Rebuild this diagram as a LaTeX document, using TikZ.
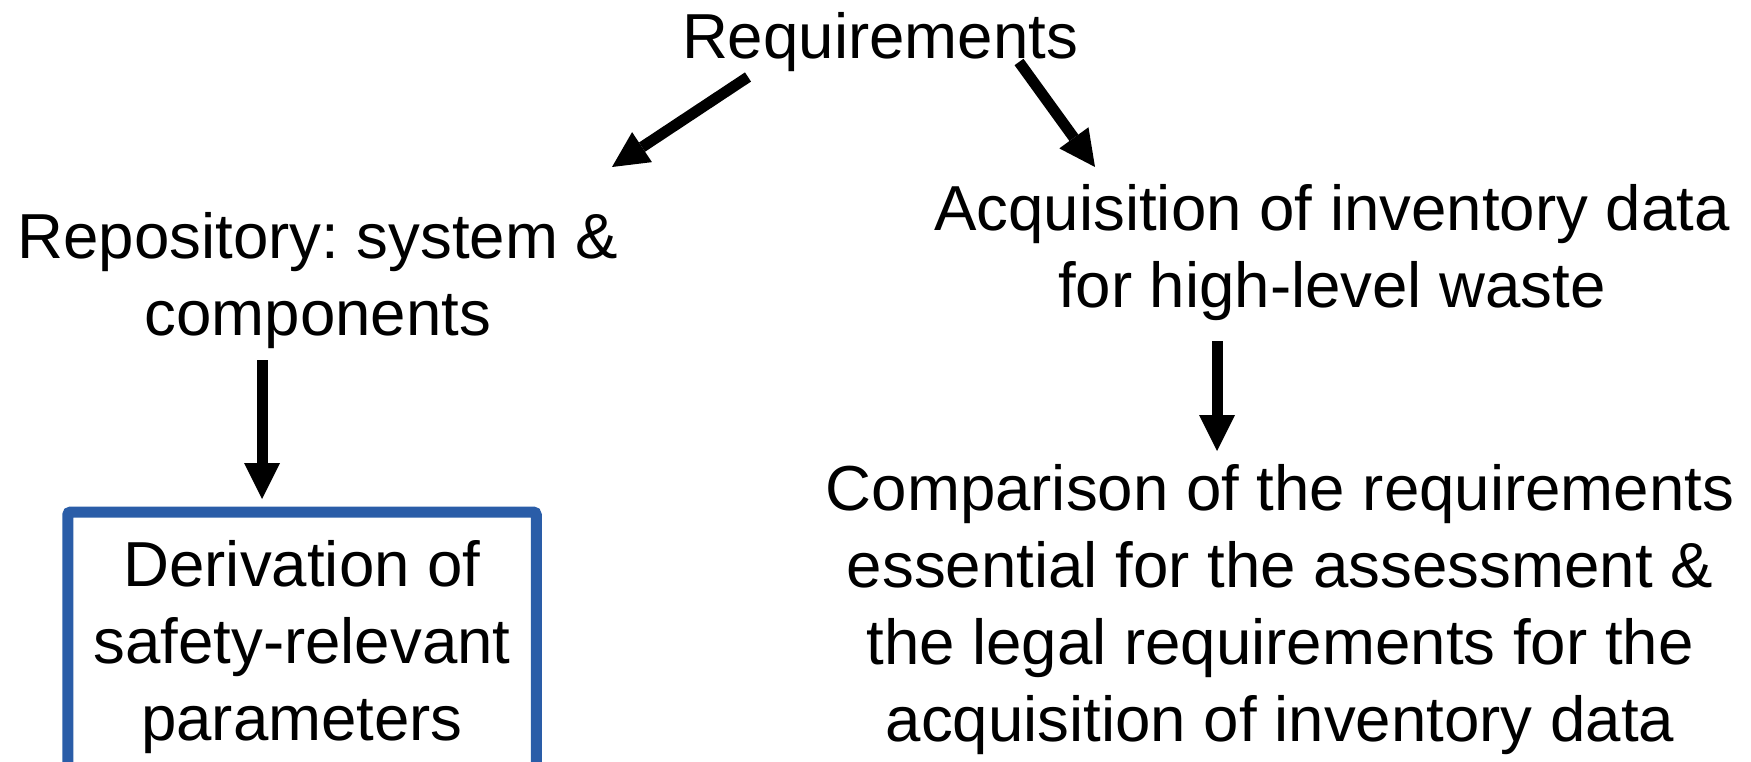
\documentclass[tikz,border=0pt]{standalone}
\usepackage{fontspec}
\setmainfont{Liberation Sans}
\usetikzlibrary{arrows.meta}
\definecolor{boxblue}{RGB}{42,93,168}
\frenchspacing
\tikzset{
  lbl/.style={align=center, inner sep=0pt, font=\fontsize{63.6}{77}\selectfont\frenchspacing},
  arr/.style={line width=11pt, -{Triangle[length=36pt,width=36pt,line width=0pt]}},
  framebox/.style={lbl, draw=boxblue, line width=11pt, rounded corners=3pt,
    minimum width=468.5pt, minimum height=269.4pt}
}
\begin{document}
\begin{tikzpicture}[x=1pt,y=-1pt]
\useasboundingbox (0,0) rectangle (1751,762);
\node[lbl] (req) at (880,41.7) {Requirements};
\node[lbl] (repo) at (318,281) {Repository: system \&\\components};
\node[lbl] (acq) at (1332,253) {Acquisition of inventory data\\for high-level waste};
\node[lbl] (comp) at (1280,610) {Comparison of the requirements\\essential for the assessment \&\\the legal requirements for the\\acquisition of inventory data};
\node[framebox] (deriv) at (302,646.7) {Derivation of\\safety-relevant\\parameters};
\coordinate (a1s) at (748,77);
\coordinate (a1e) at (612,167);
\coordinate (a2s) at (1019,62);
\coordinate (a2e) at (1095,167);
\coordinate (a3s) at (262,360);
\coordinate (a3e) at (262,499);
\coordinate (a4s) at (1217,341);
\coordinate (a4e) at (1217,451);
\draw[arr] (a1s) -- (a1e);
\draw[arr] (a2s) -- (a2e);
\draw[arr] (a3s) -- (a3e);
\draw[arr] (a4s) -- (a4e);
\end{tikzpicture}
\end{document}
